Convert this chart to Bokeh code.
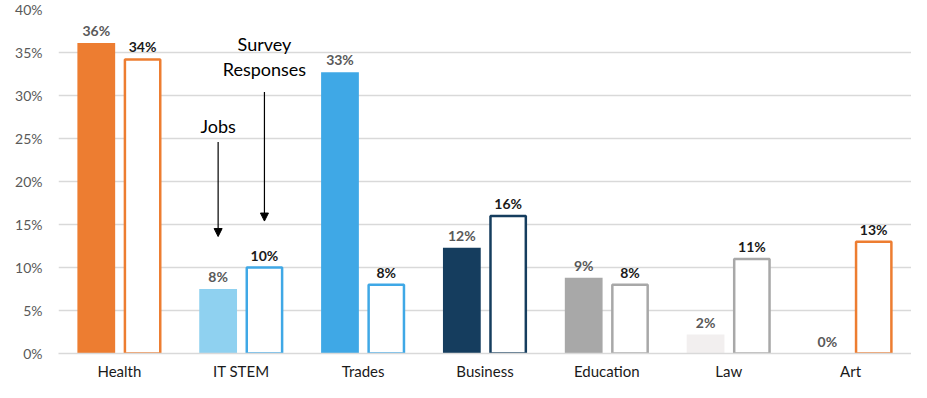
from bokeh.plotting import figure
from bokeh.models import (ColumnDataSource, FactorRange, NumeralTickFormatter,
                          Arrow, NormalHead, Label)
from bokeh.transform import dodge
from bokeh.embed import file_html
from bokeh.resources import INLINE

categories = ["Health", "IT STEM", "Trades", "Business", "Education", "Law", "Art"]
jobs = [0.361, 0.075, 0.327, 0.123, 0.088, 0.022, 0.0]
survey = [0.342, 0.100, 0.080, 0.160, 0.080, 0.110, 0.130]
jobs_labels = ["36%", "8%", "33%", "12%", "9%", "2%", "0%"]
survey_labels = ["34%", "10%", "8%", "16%", "8%", "11%", "13%"]
jobs_colors = ["#ED7D31", "#8FD1F0", "#3FA8E6", "#153D5E", "#A8A8A8", "#F2EFEF", "#ED7D31"]
survey_colors = ["#ED7D31", "#3FA8E6", "#3FA8E6", "#153D5E", "#A8A8A8", "#A8A8A8", "#ED7D31"]
y_ticks = [0.0, 0.05, 0.10, 0.15, 0.20, 0.25, 0.30, 0.35, 0.40]

FONT = "Lato"
OFF = 0.19
BW = 0.31

src = ColumnDataSource(dict(cat=categories, jobs=jobs, survey=survey,
                            jl=jobs_labels, sl=survey_labels,
                            jc=jobs_colors, sc=survey_colors))

p = figure(x_range=FactorRange(*categories), y_range=(0, 0.40),
           width=911, height=382, output_backend="svg", toolbar_location=None,
           min_border_left=58, min_border_right=0, min_border_top=9, min_border_bottom=29)
p.outline_line_color = None
p.background_fill_color = "white"

p.vbar(x=dodge("cat", -OFF, range=p.x_range), top="jobs", width=BW, source=src,
       fill_color="jc", line_color=None)
p.vbar(x=dodge("cat", OFF, range=p.x_range), top="survey", width=BW - 0.02, source=src,
       fill_color="white", line_color="sc", line_width=2.5)

p.text(x=dodge("cat", -OFF, range=p.x_range), y="jobs", text="jl", source=src,
       text_align="center", text_baseline="bottom", y_offset=-4,
       text_font_size="14px", text_font_style="bold", text_color="#595959",
       text_font={"value": FONT})
p.text(x=dodge("cat", OFF, range=p.x_range), y="survey", text="sl", source=src,
       text_align="center", text_baseline="bottom", y_offset=-4,
       text_font_size="14px", text_font_style="bold", text_color="#1a1a1a",
       text_font={"value": FONT})

# annotations pointing at the two IT STEM bars
it = categories.index("IT STEM") + 0.5
p.add_layout(Arrow(end=NormalHead(size=8, fill_color="black", line_color="black"),
                   x_start=it - OFF, y_start=0.246, x_end=it - OFF, y_end=0.136,
                   line_color="black", line_width=1.2))
p.add_layout(Arrow(end=NormalHead(size=8, fill_color="black", line_color="black"),
                   x_start=it + OFF, y_start=0.304, x_end=it + OFF, y_end=0.154,
                   line_color="black", line_width=1.2))
for txt, xx, yy in [("Jobs", it - OFF, 0.265), ("Survey", it + OFF, 0.360),
                    ("Responses", it + OFF, 0.331)]:
    p.add_layout(Label(x=xx, y=yy, text=txt, text_align="center",
                       text_baseline="middle", text_font_size="18px",
                       text_font=FONT, text_color="black"))

p.yaxis.ticker = y_ticks
p.yaxis.formatter = NumeralTickFormatter(format="0%")
p.yaxis.axis_line_color = None
p.yaxis.major_tick_line_color = None
p.yaxis.minor_tick_line_color = None
p.yaxis.major_tick_out = 0
p.yaxis.major_tick_in = 0
p.yaxis.major_label_standoff = 16
p.xaxis.axis_line_color = "#D9D9D9"
p.xaxis.axis_line_width = 1.5
p.xaxis.major_tick_line_color = None
p.xaxis.minor_tick_line_color = None
p.xaxis.major_tick_out = 0
p.xaxis.major_tick_in = 0
p.xaxis.major_label_standoff = 8
for ax in (p.xaxis, p.yaxis):
    ax.major_label_text_font = FONT
    ax.major_label_text_font_size = "14px"
    ax.major_label_text_color = "#595959"
p.xaxis.major_label_text_font_size = "15px"
p.xaxis.major_label_text_color = "#1a1a1a"
p.xgrid.grid_line_color = None
p.ygrid.grid_line_color = "#D9D9D9"
p.ygrid.grid_line_width = 1.5

open("out.html", "w").write(file_html(p, INLINE))
